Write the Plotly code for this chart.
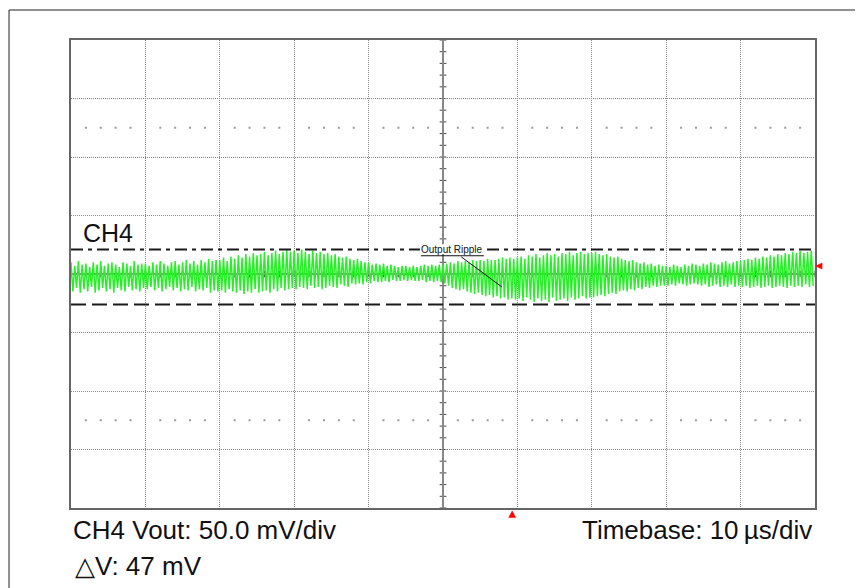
import plotly.graph_objects as go

# ---- data ----
# time axis: 10 us/div, 10 divisions, trigger at centre
time_range_us = [-50, 50]
# vertical: 50 mV/div, 8 divisions
volt_range_mv = [-200, 200]

# ripple peaks / troughs per cycle (mV), 20 cycles per division
ripple_peaks_mv = [
    10, 7, 11, 8, 9, 6, 10, 8, 11, 7, 9, 10, 8, 6, 10, 9, 7, 11, 8, 9,
    9, 7, 10, 8, 11, 9, 7, 10, 11, 8, 10, 12, 9, 11, 8, 12, 10, 13, 11, 12,
    12, 14, 11, 15, 13, 16, 14, 17, 15, 18, 16, 17, 19, 16, 18, 20, 17, 19, 21, 19,
    20, 18, 21, 19, 17, 20, 18, 19, 17, 18, 16, 17, 15, 14, 15, 13, 12, 13, 11, 10,
    10, 8, 9, 8, 9, 7, 8, 7, 6, 7, 7, 6, 7, 6, 7, 8, 7, 8, 7, 8,
    8, 9, 10, 9, 11, 10, 11, 10, 12, 11, 12, 11, 13, 12, 12, 13, 14, 13, 14, 13,
    14, 15, 13, 16, 15, 17, 14, 16, 18, 16, 17, 15, 18, 17, 19, 16, 18, 19, 17, 18,
    18, 19, 17, 16, 17, 15, 14, 15, 13, 12, 11, 12, 10, 9, 10, 8, 9, 7, 8, 7,
    7, 6, 8, 7, 6, 8, 7, 9, 8, 7, 9, 8, 10, 9, 8, 10, 11, 9, 10, 11,
    11, 12, 13, 12, 14, 13, 15, 14, 16, 15, 17, 16, 18, 17, 19, 18, 20, 18, 19, 20,
]
ripple_troughs_mv = [
    -15, -12, -16, -13, -15, -11, -16, -14, -12, -15, -13, -16, -12, -14, -15, -11, -14, -13, -15, -12,
    -13, -11, -14, -12, -15, -13, -11, -14, -12, -15, -13, -14, -11, -15, -13, -14, -12, -16, -14, -15,
    -14, -16, -13, -15, -16, -14, -17, -15, -16, -13, -16, -15, -14, -16, -13, -15, -12, -14, -13, -12,
    -13, -11, -12, -13, -10, -12, -11, -13, -12, -10, -11, -12, -9, -10, -11, -8, -9, -8, -9, -7,
    -8, -6, -7, -7, -6, -7, -5, -6, -6, -5, -6, -5, -6, -6, -5, -7, -6, -7, -6, -7,
    -8, -10, -12, -13, -14, -13, -15, -16, -17, -16, -18, -19, -18, -20, -19, -21, -20, -22, -21, -22,
    -21, -23, -20, -22, -24, -21, -23, -22, -24, -20, -23, -22, -21, -23, -20, -22, -21, -19, -21, -20,
    -20, -19, -18, -19, -17, -16, -17, -15, -14, -15, -13, -14, -12, -13, -11, -12, -10, -11, -10, -10,
    -10, -9, -10, -8, -9, -10, -9, -8, -9, -10, -9, -11, -10, -9, -11, -10, -11, -9, -11, -10,
    -11, -10, -12, -11, -10, -12, -11, -10, -12, -11, -10, -11, -12, -10, -11, -10, -11, -9, -11, -10,
]

cursor_upper_mv = 21
cursor_lower_mv = -26
trigger_time_us = 9.3
trigger_level_mv = 6.8
ripple_label_point = (7.9, -11)

channel_label = "CH4"
scale_text = "CH4 Vout: 50.0 mV/div"
delta_text = "\u25b3V: 47 mV"
timebase_text = "Timebase: 10\u2009\u00b5s/div"
ripple_text = "Output Ripple"

# ---- build waveform ----
n = min(len(ripple_peaks_mv), len(ripple_troughs_mv))
period = (time_range_us[1] - time_range_us[0]) / n
tx, vy = [], []
for i in range(n):
    t = time_range_us[0] + i * period
    tx += [t, t + period / 2]
    vy += [ripple_peaks_mv[i], ripple_troughs_mv[i]]

FONT = "Liberation Sans, Arial, Helvetica, sans-serif"
fig = go.Figure()

# graticule dot rows at +/-1.5 div from edges
dot_x = [t for t in range(-48, 50, 2) if t % 10 != 0]
for yv in (125, -125):
    fig.add_trace(go.Scatter(x=dot_x, y=[yv] * len(dot_x), mode="markers",
                             marker=dict(symbol="square", size=2, color="#999"),
                             hoverinfo="skip", showlegend=False))

# ripple trace
fig.add_trace(go.Scatter(x=tx, y=vy, mode="lines",
                         line=dict(color="rgb(40,240,40)", width=1.5),
                         hoverinfo="skip", showlegend=False))

# cursors
fig.add_trace(go.Scatter(x=time_range_us, y=[cursor_upper_mv] * 2, mode="lines",
                         line=dict(color="#1a1a1a", width=2, dash="12px,5px,4px,5px"),
                         hoverinfo="skip", showlegend=False))
fig.add_trace(go.Scatter(x=time_range_us, y=[cursor_lower_mv] * 2, mode="lines",
                         line=dict(color="#1a1a1a", width=2, dash="15px,6px"),
                         hoverinfo="skip", showlegend=False))

shapes = []
# centre-axis minor ticks
for v in range(-200, 201, 10):
    if v == 0:
        continue
    shapes.append(dict(type="line", xref="x", yref="y", x0=-0.45, x1=0.45, y0=v, y1=v,
                       line=dict(color="#444", width=1), layer="below"))
for t in range(-50, 51, 2):
    if t == 0:
        continue
    shapes.append(dict(type="line", xref="x", yref="y", x0=t, x1=t, y0=-2.8, y1=2.8,
                       line=dict(color="#444", width=1), layer="below"))

# white patch behind the ripple label (cursor line is broken there)
shapes.append(dict(type="rect", xref="x", yref="y", x0=-3.1, x1=5.6, y0=17.0, y1=25.5,
                   fillcolor="white", line=dict(width=0), layer="above"))
# underline of the ripple label
shapes.append(dict(type="line", xref="x", yref="y", x0=-2.96, x1=5.5, y0=15.6, y1=15.6,
                   line=dict(color="#111", width=1)))

# red markers: trigger position (below the graticule) and trigger level (right edge)
tri_dx = 0.47  # half width in us (~3.5 px)
shapes.append(dict(type="path", xref="x", yref="paper",
                   path=f"M {trigger_time_us - tri_dx},-0.0205 L {trigger_time_us + tri_dx},-0.0205 "
                        f"L {trigger_time_us},-0.0062 Z",
                   fillcolor="red", line=dict(color="red", width=0.5)))
tri_dy = 2.6  # half height in mV (~3 px)
shapes.append(dict(type="path", xref="paper", yref="y",
                   path=f"M 1.0095,{trigger_level_mv - tri_dy} L 1.0095,{trigger_level_mv + tri_dy} "
                        f"L 1.0008,{trigger_level_mv} Z",
                   fillcolor="red", line=dict(color="red", width=0.5)))

# outer frame
shapes.append(dict(type="rect", xref="paper", yref="paper", x0=-0.0833, x1=1.3,
                   y0=-0.4, y1=1.0641, line=dict(color="#222", width=1)))

annotations = [
    dict(text=channel_label, xref="paper", yref="paper", x=0.0135, y=0.5876,
         xanchor="left", yanchor="middle", showarrow=False,
         font=dict(family=FONT, size=25, color="#111")),
    dict(text=scale_text, xref="paper", yref="paper", x=0.0, y=-0.047,
         xanchor="left", yanchor="middle", showarrow=False,
         font=dict(family=FONT, size=26, color="#111")),
    dict(text=delta_text, xref="paper", yref="paper", x=0.003, y=-0.124,
         xanchor="left", yanchor="middle", showarrow=False,
         font=dict(family=FONT, size=26, color="#111")),
    dict(text=timebase_text, xref="paper", yref="paper", x=0.999, y=-0.047,
         xanchor="right", yanchor="middle", showarrow=False,
         font=dict(family=FONT, size=26, color="#111")),
    dict(text=ripple_text, xref="x", yref="y", x=ripple_label_point[0], y=ripple_label_point[1],
         ax=-50, ay=-37, showarrow=True, arrowhead=0, arrowwidth=1, arrowcolor="#111",
         font=dict(family=FONT, size=10, color="#111")),
]

axis_common = dict(showticklabels=False, ticks="", showline=True, mirror=True,
                   linecolor="#666", linewidth=1.5, showgrid=True, gridcolor="#8a8a8a",
                   griddash="1px,1px", gridwidth=1, zeroline=True, zerolinecolor="#888",
                   zerolinewidth=2, fixedrange=True)

fig.update_layout(
    width=855, height=580,
    margin=dict(l=63, r=48, t=32, b=80),
    paper_bgcolor="white", plot_bgcolor="white",
    xaxis=dict(range=time_range_us, dtick=10, tick0=0, **axis_common),
    yaxis=dict(range=volt_range_mv, dtick=50, tick0=0, **axis_common),
    shapes=shapes, annotations=annotations,
    showlegend=False,
)

fig.write_html("out.html")
